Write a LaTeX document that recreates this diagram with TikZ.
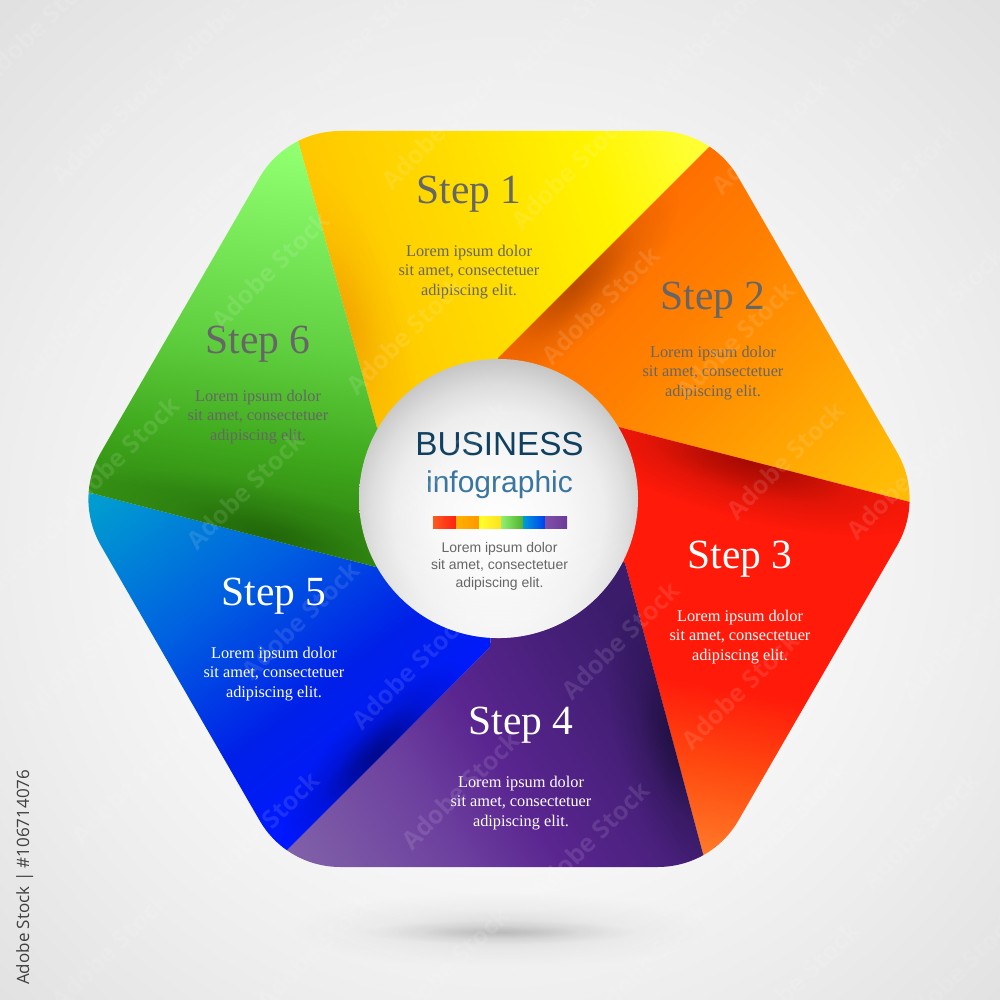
\documentclass[tikz,border=0pt]{standalone}
\usepackage{fontspec}
\usetikzlibrary{fadings}
\newfontfamily\stepfont{Liberation Serif}
\newfontfamily\arialfont{Liberation Sans}
\newfontfamily\stockfont{Open Sans}
\definecolor{stepgrey}{HTML}{666666}
\definecolor{bizblue}{HTML}{0F4060}
\definecolor{infoblue}{HTML}{3A76A0}
\definecolor{y0}{HTML}{FFC400}\definecolor{y1}{HTML}{FFDC00}\definecolor{y2}{HTML}{FFF400}\definecolor{y3}{HTML}{FFFF33}
\definecolor{o0}{HTML}{FF6A00}\definecolor{o1}{HTML}{FF8000}\definecolor{o2}{HTML}{FFBB05}
\definecolor{r0}{HTML}{FF1A0A}\definecolor{r1}{HTML}{FF4A10}\definecolor{r2}{HTML}{FF7A28}
\definecolor{p0}{HTML}{8060A8}\definecolor{p1}{HTML}{6C3F9E}\definecolor{p2}{HTML}{5A2590}\definecolor{p3}{HTML}{3A1C6A}
\definecolor{b0}{HTML}{009CD0}\definecolor{b1}{HTML}{0060E0}\definecolor{b2}{HTML}{0020E8}\definecolor{b3}{HTML}{0018FF}
\definecolor{g0}{HTML}{90FF70}\definecolor{g1}{HTML}{60D040}\definecolor{g2}{HTML}{3FA81C}\definecolor{g3}{HTML}{348F14}
\definecolor{shadeY}{HTML}{E88A00}\definecolor{shadeO}{HTML}{A84000}\definecolor{shadeR}{HTML}{800400}
\definecolor{shadeP}{HTML}{100828}\definecolor{shadeB}{HTML}{000050}\definecolor{shadeG}{HTML}{104000}
\definecolor{barA}{HTML}{FF5A20}\definecolor{barB}{HTML}{FF2010}
\definecolor{barC}{HTML}{FFB000}\definecolor{barD}{HTML}{FF9800}
\definecolor{barE}{HTML}{FFFF30}\definecolor{barF}{HTML}{FFE020}
\definecolor{barG}{HTML}{90F070}\definecolor{barH}{HTML}{50B030}
\definecolor{barI}{HTML}{009CD8}\definecolor{barJ}{HTML}{0040F0}
\definecolor{barK}{HTML}{8050A8}\definecolor{barL}{HTML}{6A3A98}
% P1 sits at 33.33bp and P2 at 66.67bp; the outer thirds pad the end colours
\pgfdeclarehorizontalshading{gradY}{100bp}{color(0bp)=(y0);color(33.33bp)=(y0);color(46.67bp)=(y1);color(58.33bp)=(y2);color(66.67bp)=(y3);color(100bp)=(y3)}
\pgfdeclarehorizontalshading{gradO}{100bp}{color(0bp)=(o0);color(33.33bp)=(o0);color(45bp)=(o1);color(66.67bp)=(o2);color(100bp)=(o2)}
\pgfdeclarehorizontalshading{gradR}{100bp}{color(0bp)=(r0);color(50.2bp)=(r0);color(58.3bp)=(r1);color(66.67bp)=(r2);color(100bp)=(r2)}
\pgfdeclarehorizontalshading{gradP}{100bp}{color(0bp)=(p0);color(33.33bp)=(p0);color(45bp)=(p1);color(51.67bp)=(p2);color(66.67bp)=(p3);color(100bp)=(p3)}
\pgfdeclarehorizontalshading{gradB}{100bp}{color(0bp)=(b0);color(33.33bp)=(b0);color(46.67bp)=(b1);color(58.33bp)=(b2);color(66.67bp)=(b3);color(100bp)=(b3)}
\pgfdeclarehorizontalshading{gradG}{100bp}{color(0bp)=(g0);color(33.33bp)=(g0);color(51.67bp)=(g1);color(61.67bp)=(g2);color(66.67bp)=(g3);color(100bp)=(g3)}
% TikZ fits the middle 50bp square of a shading or fading to the path's box
\pgfdeclareradialshading{softgrey}{\pgfpointorigin}{color(0bp)=(white);color(6bp)=(white!75!black);color(14bp)=(white!30!black);color(25bp)=(black);color(50bp)=(black)}
\pgfdeclarefading{softglow}{\pgfuseshading{softgrey}}
\pgfdeclareverticalshading{lowgrey}{100bp}{color(0bp)=(white);color(25bp)=(white);color(35bp)=(white!30!black);color(45bp)=(black);color(100bp)=(black)}
\pgfdeclarefading{lowglow}{\pgfuseshading{lowgrey}}
\pgfdeclareradialshading{ballshade}{\pgfpoint{0bp}{-5bp}}{color(0bp)=(white);color(12bp)=(black!3);color(19bp)=(black!7);color(23bp)=(black!13);color(27bp)=(black!22);color(50bp)=(black!22)}
\pgfdeclareradialshading{bgshade}{\pgfpoint{0bp}{-3bp}}{color(0bp)=(black!2);color(15bp)=(black!3);color(25bp)=(black!7);color(36bp)=(black!12);color(50bp)=(black!12)}
\newcommand{\gradfill}[5]{%
  \begin{pgfscope}
  \pgfmathsetmacro\gfDx{#4-#2}
  \pgfmathsetmacro\gfDy{-(#5-#3)}
  \pgfmathsetmacro\gfLen{veclen(\gfDx,\gfDy)}
  \pgfmathsetmacro\gfA{3*\gfDx/100.375}
  \pgfmathsetmacro\gfB{3*\gfDy/100.375}
  \pgfmathsetmacro\gfC{-\gfDy/\gfLen*30}
  \pgfmathsetmacro\gfD{\gfDx/\gfLen*30}
  \pgfmathsetmacro\gfX{(#2+#4)/2}
  \pgfmathsetmacro\gfY{-(#3+#5)/2}
  \pgftransformcm{\gfA}{\gfB}{\gfC}{\gfD}{\pgfpoint{\gfX pt}{\gfY pt}}
  \pgflowlevelsynccm
  \pgfuseshading{#1}
  \end{pgfscope}}
\newcommand{\softshade}[7]{\fill[#6,fill opacity=#7,path fading=softglow,transform canvas={shift={(#1,#2)},rotate=#5}] (0,0) ellipse [x radius=#3,y radius=#4];}
\tikzset{
  sectorhead/.style={anchor=base,inner sep=0pt,font=\stepfont\fontsize{41.5}{41.5}\selectfont},
  sectorbody/.style={align=center,inner sep=0pt,font=\stepfont\fontsize{16.3}{19.7}\selectfont},
  darktext/.style={text=stepgrey},
  lighttext/.style={text=white},
  stockmark/.style={rotate=45,inner sep=0pt,text=white,text opacity=0.11,font=\stockfont\bfseries\fontsize{25}{25}\selectfont}
}
\begin{document}
\begin{tikzpicture}[x=1pt,y=-1pt]
\useasboundingbox (0,0) rectangle (1000,1000);
\path[shading=bgshade] (0,0) rectangle (1000,1000);
% ground shadow
\softshade{500}{930}{210}{38}{0}{black}{0.10}
\softshade{500}{932}{140}{12}{0}{black}{0.14}
% hexagon
\begin{scope}
\clip[shift={(499,499)}] (158.5,-368) .. controls (192.1,-368) and (222.7,-350.4) .. (239.5,-321.3)
 -- (398,-46.8) .. controls (414.8,-17.7) and (414.8,17.7) .. (398,46.8)
 -- (239.5,321.3) .. controls (222.7,350.4) and (192.1,368) .. (158.5,368)
 -- (-158.5,368) .. controls (-192.1,368) and (-222.7,350.4) .. (-239.5,321.3)
 -- (-398,46.8) .. controls (-414.8,17.7) and (-414.8,-17.7) .. (-398,-46.8)
 -- (-239.5,-321.3) .. controls (-222.7,-350.4) and (-192.1,-368) .. (-158.5,-368) -- cycle;
% yellow
\begin{scope}
\clip (291,115) -- (730,126) -- (498,358) -- (499,499) -- (377,428) -- cycle;
\gradfill{gradY}{330}{300}{700}{170}
\softshade{345}{320}{150}{60}{-74.6}{shadeY}{0.5}
\end{scope}
% orange
\begin{scope}
\clip (730,126) -- (935,508.5) -- (619,427) -- (499,499) -- (498,358) -- cycle;
\gradfill{gradO}{600}{220}{880}{480}
\softshade{575}{285}{140}{48}{45}{shadeO}{0.75}
\end{scope}
% red
\begin{scope}
\clip (935,508.5) -- (710,880) -- (625,563) -- (499,499) -- (619,427) -- cycle;
\gradfill{gradR}{771}{520}{712}{855}
\softshade{750}{462}{190}{58}{-14.5}{shadeR}{0.7}
\end{scope}
% purple
\begin{scope}
\clip (710,880) -- (265,872) -- (490,647) -- (499,499) -- (625,563) -- cycle;
\gradfill{gradP}{300}{860}{640}{650}
\softshade{675}{740}{150}{58}{-75}{shadeP}{0.6}
\end{scope}
% blue
\begin{scope}
\clip (265,872) -- (60,485) -- (376,567) -- (499,499) -- (490,647) -- cycle;
\gradfill{gradB}{100}{500}{330}{800}
\softshade{375}{755}{125}{42}{45}{shadeB}{0.65}
\end{scope}
% green
\begin{scope}
\clip (60,485) -- (291,115) -- (377,428) -- (499,499) -- (376,567) -- cycle;
\gradfill{gradG}{290}{150}{240}{500}
\softshade{270}{535}{180}{48}{-14.6}{shadeG}{0.5}
\end{scope}
\end{scope}
% centre disc
\path[shading=ballshade] (498.5,498.5) circle [radius=139.5];
\fill[white,fill opacity=0.7,path fading=lowglow] (498.5,498.5) circle [radius=139.5];
% colour bar
\path[shade,left color=barA,right color=barB] (433,516) rectangle (456,528);
\path[shade,left color=barC,right color=barD] (456,516) rectangle (479,528);
\path[shade,left color=barE,right color=barF] (479,516) rectangle (501,528);
\path[shade,left color=barG,right color=barH] (501,516) rectangle (523,528);
\path[shade,left color=barI,right color=barJ] (523,516) rectangle (545,528);
\path[shade,left color=barK,right color=barL] (545,516) rectangle (567,528);
% texts
\node[sectorhead,darktext] (head1) at (469,204) {Step 1};
\node[sectorbody,darktext] (body1) at (469,272) {Lorem ipsum dolor\\sit amet, consectetuer\\adipiscing elit.};
\node[sectorhead,darktext] (head2) at (713,309) {Step 2};
\node[sectorbody,darktext] (body2) at (713,373) {Lorem ipsum dolor\\sit amet, consectetuer\\adipiscing elit.};
\node[sectorhead,lighttext] (head3) at (740,568) {Step 3};
\node[sectorbody,lighttext] (body3) at (740,637) {Lorem ipsum dolor\\sit amet, consectetuer\\adipiscing elit.};
\node[sectorhead,lighttext] (head4) at (521,734) {Step 4};
\node[sectorbody,lighttext] (body4) at (521,803) {Lorem ipsum dolor\\sit amet, consectetuer\\adipiscing elit.};
\node[sectorhead,lighttext] (head5) at (274,605) {Step 5};
\node[sectorbody,lighttext] (body5) at (274,674) {Lorem ipsum dolor\\sit amet, consectetuer\\adipiscing elit.};
\node[sectorhead,darktext] (head6) at (258,353) {Step 6};
\node[sectorbody,darktext] (body6) at (258,417) {Lorem ipsum dolor\\sit amet, consectetuer\\adipiscing elit.};
\node[anchor=base,inner sep=0pt,text=bizblue,font=\arialfont\fontsize{33.3}{34}\selectfont] (biz) at (499.5,455) {BUSINESS};
\node[anchor=base,inner sep=0pt,text=infoblue,font=\arialfont\fontsize{30}{30}\selectfont] (info) at (499.5,492) {infographic};
\node[align=center,inner sep=0pt,text=stepgrey,font=\arialfont\fontsize{14}{17.5}\selectfont] (centerbody) at (499.5,566) {Lorem ipsum dolor\\sit amet, consectetuer\\adipiscing elit.};
\node[rotate=90,anchor=base west,inner sep=0pt,text=black!75,font=\stockfont\fontsize{17}{17}\selectfont] (stockid) at (29,985) {Adobe Stock | \#106714076};
% faint repeated marks
\foreach \wx/\wy [count=\wi] in {40/25,230/10,370/30,570/20,710/35,900/15,
 110/125,240/165,440/130,570/170,770/135,900/180,
 75/325,270/270,405/335,600/305,735/340,945/305,
 120/455,245/490,450/460,785/460,905/480,10/570,
 300/620,620/640,960/640,80/660,410/670,740/690,
 130/785,460/790,790/820,260/830,590/840,920/830,
 110/950,315/950,450/965,650/960,800/980,960/970}
  \node[stockmark] (mark\wi) at (\wx,\wy) {Adobe Stock};
\end{tikzpicture}
\end{document}
